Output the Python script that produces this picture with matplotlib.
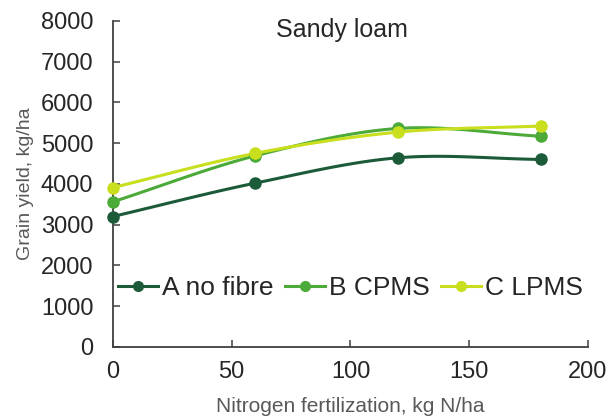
import numpy as np
import matplotlib
matplotlib.use("Agg")
import matplotlib.pyplot as plt
from matplotlib.lines import Line2D

plt.rcParams['font.family'] = ['Liberation Sans', 'DejaVu Sans']

nitrogen = [0, 60, 120, 180]
series_names = ["A no fibre", "B CPMS", "C LPMS"]
yield_a = [3200, 4020, 4640, 4600]
yield_b = [3560, 4690, 5360, 5170]
yield_c = [3910, 4750, 5270, 5420]
colors = ["#1c5b3a", "#4caa38", "#c9de1c"]
x_ticks = [0, 50, 100, 150, 200]
y_ticks = [0, 1000, 2000, 3000, 4000, 5000, 6000, 7000, 8000]


def smooth(x, y, n=30):
    # Catmull-Rom drawing path through the data points (like Excel smoothed line)
    x = np.asarray(x, float); y = np.asarray(y, float)
    px = np.concatenate([[2 * x[0] - x[1]], x, [2 * x[-1] - x[-2]]])
    py = np.concatenate([[2 * y[0] - y[1]], y, [2 * y[-1] - y[-2]]])
    xs, ys = [], []
    t = np.linspace(0, 1, n)
    for i in range(1, len(px) - 2):
        p0, p1, p2, p3 = [np.array([px[j], py[j]]) for j in (i - 1, i, i + 1, i + 2)]
        c = 0.5 * (2 * p1[:, None] + (-p0 + p2)[:, None] * t
                   + (2 * p0 - 5 * p1 + 4 * p2 - p3)[:, None] * t ** 2
                   + (-p0 + 3 * p1 - 3 * p2 + p3)[:, None] * t ** 3)
        xs.extend(c[0]); ys.extend(c[1])
    return xs, ys


fig = plt.figure(figsize=(6.1, 4.17), dpi=100)
ax = fig.add_axes([0.185, 0.168, 0.779, 0.782])

handles = []
for name, vals, col in zip(series_names, [yield_a, yield_b, yield_c], colors):
    sx, sy = smooth(nitrogen, vals)
    ax.plot(sx, sy, color=col, lw=2.2, zorder=2, clip_on=False)
    ax.plot(nitrogen, vals, 'o', color=col, ms=8, zorder=3, clip_on=False)
    handles.append(Line2D([], [], color=col, lw=2.2, marker='o', ms=7, label=name))

ax.set_xlim(0, 200)
ax.set_ylim(0, 8000)
ax.set_xticks(x_ticks)
ax.set_yticks(y_ticks)
for s in ['top', 'right']:
    ax.spines[s].set_visible(False)
for s in ['left', 'bottom']:
    ax.spines[s].set_color('#404040')
    ax.spines[s].set_linewidth(1.3)
ax.tick_params(axis='both', direction='in', length=5, width=1.1, color='#404040',
               labelsize=17, labelcolor='#262626')
ax.tick_params(axis='y', pad=14)
ax.tick_params(axis='x', pad=10)

ax.text(0.482, 0.972, "Sandy loam", transform=ax.transAxes, ha='center', va='center',
        fontsize=18, color='#262626')
ax.set_ylabel("Grain yield, kg/ha", fontsize=14, color='#595959', labelpad=5)
ax.set_xlabel("Nitrogen fertilization, kg N/ha", fontsize=15, color='#595959', labelpad=10)

leg = ax.legend(handles=handles, loc='center', bbox_to_anchor=(0.5, 0.181), ncol=3,
                frameon=False, fontsize=19, handlelength=1.5, handletextpad=0.15,
                columnspacing=0.45, borderaxespad=0)
for t in leg.get_texts():
    t.set_color('#262626')

fig.savefig("out.png", dpi=100)
